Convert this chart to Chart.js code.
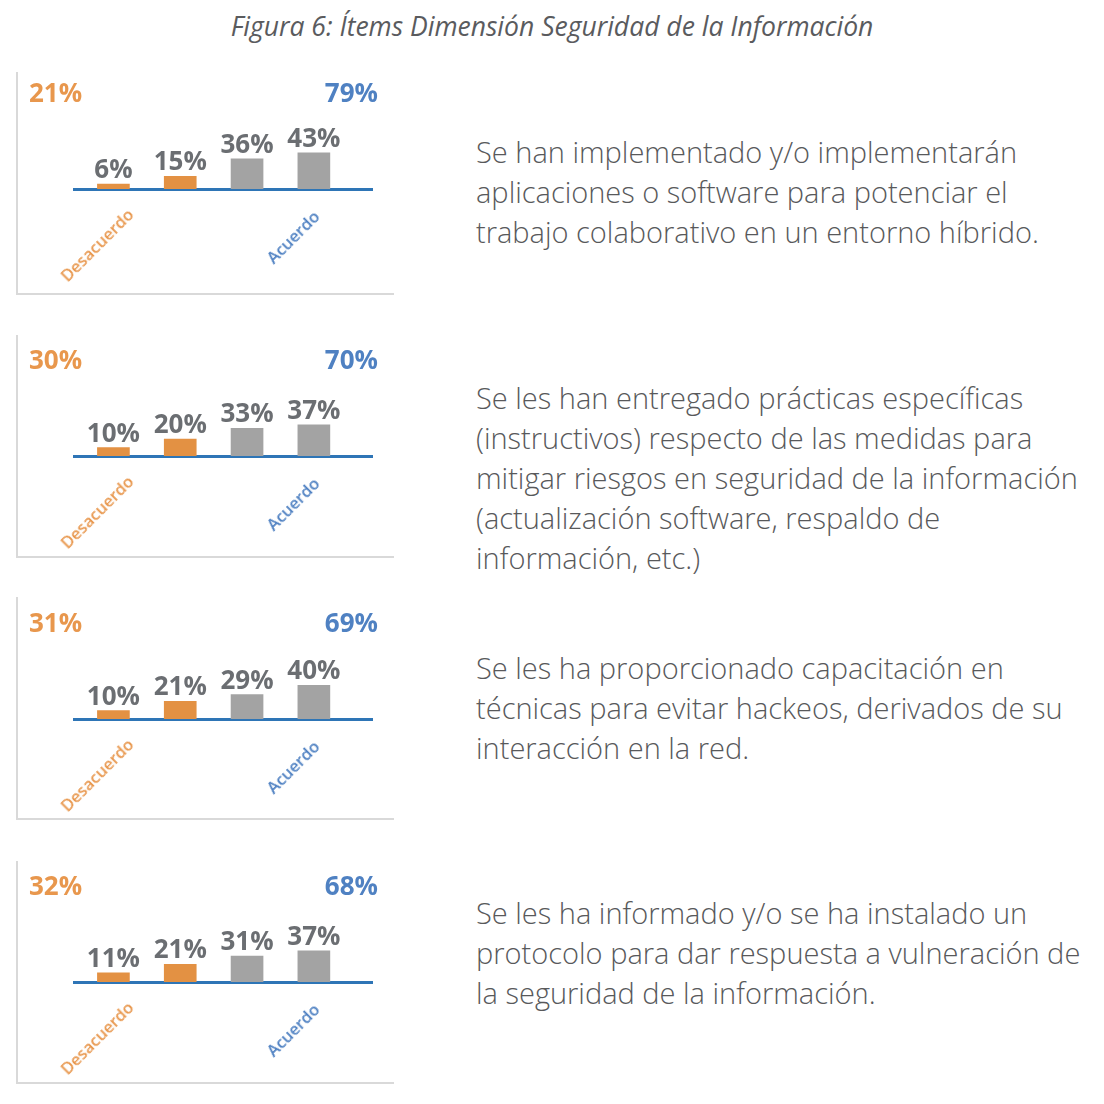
<!DOCTYPE html>
<html>
<head>
<meta charset="utf-8">
<script src="https://cdn.jsdelivr.net/npm/chart.js@4"></script>
<style>
  html, body { margin: 0; padding: 0; background: #ffffff; }
  #page { position: relative; width: 1104px; height: 1104px; overflow: hidden; font-family: "Open Sans", "Noto Sans", sans-serif; }
  .title { position: absolute; left: 0; width: 1104px; top: 9px; text-align: center; font-style: italic; font-size: 26.5px; line-height: 34px; color: #5a5b5e; }
  .frame { position: absolute; left: 16px; width: 378px; height: 223px; border-left: 2px solid #d9d9d9; border-bottom: 2px solid #d9d9d9; box-sizing: border-box; }
  .chartbox { position: absolute; left: 0; width: 410px; height: 250px; }
  .tot { position: absolute; font-weight: bold; font-size: 26px; line-height: 26px; }
  .rot { position: absolute; font-size: 16.5px; font-weight: 600; line-height: 20px; white-space: nowrap; transform: translate(-50%, -50%) rotate(-45deg); }
  .desc { position: absolute; left: 476px; font-size: 29px; line-height: 40px; color: #58595b; font-weight: 300; white-space: nowrap; }
</style>
</head>
<body>
<div id="page">
  <div class="title">Figura 6: Ítems Dimensión Seguridad de la Información</div>
</div>
<script>
// ---- data ----
const categories = ['Totalmente en desacuerdo', 'En desacuerdo', 'De acuerdo', 'Totalmente de acuerdo'];
const item1Values = [6, 15, 36, 43];
const item2Values = [10, 20, 33, 37];
const item3Values = [10, 21, 29, 40];
const item4Values = [11, 21, 31, 37];
const desacuerdoTotals = [21, 30, 31, 32];
const acuerdoTotals = [79, 70, 69, 68];
const groupLabels = ['Desacuerdo', 'Acuerdo'];
const itemTexts = [
  ['Se han implementado y/o implementarán', 'aplicaciones o software para potenciar el', 'trabajo colaborativo en un entorno híbrido.'],
  ['Se les han entregado prácticas específicas', '(instructivos) respecto de las medidas para', 'mitigar riesgos en seguridad de la información', '(actualización software, respaldo de', 'información, etc.)'],
  ['Se les ha proporcionado capacitación en', 'técnicas para evitar hackeos, derivados de su', 'interacción en la red.'],
  ['Se les ha informado y/o se ha instalado un', 'protocolo para dar respuesta a vulneración de', 'la seguridad de la información.']
];
const allValues = [item1Values, item2Values, item3Values, item4Values];

// ---- styles ----
const ORANGE = '#e39143';
const ORANGE_TXT = '#e8974d';
const GREY = '#a3a3a3';
const BLUE_LINE = '#2e75b6';
const BLUE_TXT = '#4f81c2';
const LABEL_GREY = '#6b6e72';
const panelOffsets = [0, 266.5, 529.5, 793];
const frameOffsets = [0, 263, 525, 789];
const textTops = [132, 378, 648, 893];

const valueLabels = {
  id: 'valueLabels',
  afterDatasetsDraw(chart) {
    const ctx = chart.ctx;
    ctx.save();
    ctx.font = 'bold 26px "Open Sans", "Noto Sans", sans-serif';
    ctx.fillStyle = LABEL_GREY;
    ctx.textAlign = 'center';
    ctx.textBaseline = 'alphabetic';
    chart.getDatasetMeta(0).data.forEach((bar, i) => {
      const v = chart.data.datasets[0].data[i].y;
      ctx.fillText(v + '%', bar.x, bar.y - 6);
    });
    ctx.restore();
  }
};

const page = document.getElementById('page');
allValues.forEach((vals, p) => {
  const off = Math.round(panelOffsets[p]);
  const frame = document.createElement('div');
  frame.className = 'frame';
  frame.style.top = (frameOffsets[p] + 72) + 'px';
  page.appendChild(frame);

  const box = document.createElement('div');
  box.className = 'chartbox';
  box.style.top = (off + 60) + 'px';
  const cv = document.createElement('canvas');
  cv.width = 410; cv.height = 250;
  box.appendChild(cv);
  page.appendChild(box);

  new Chart(cv, {
    type: 'bar',
    data: {
      datasets: [{
        label: 'Ítem ' + (p + 1),
        data: vals.map((v, i) => ({ x: i, y: v })),
        backgroundColor: vals.map((v, i) => i < 2 ? ORANGE : GREY),
        barThickness: 32,
        borderWidth: 0
      }]
    },
    options: {
      responsive: false,
      animation: false,
      events: [],
      layout: { padding: { left: 74, right: 38, top: 45, bottom: 121 } },
      plugins: { legend: { display: false }, tooltip: { enabled: false } },
      scales: {
        x: {
          type: 'linear', min: -0.59, max: 3.87, offset: false,
          grid: { display: false, offset: false },
          ticks: { display: false },
          border: { display: true, color: BLUE_LINE, width: 3 },
          afterFit: s => { s.height = 0; }
        },
        y: { display: false, min: 0, max: 100 }
      }
    },
    plugins: [valueLabels]
  });

  const t1 = document.createElement('div');
  t1.className = 'tot';
  t1.style.color = ORANGE_TXT;
  t1.style.left = '29px';
  t1.style.top = (off + 79) + 'px';
  t1.textContent = desacuerdoTotals[p] + '%';
  page.appendChild(t1);

  const t2 = document.createElement('div');
  t2.className = 'tot';
  t2.style.color = BLUE_TXT;
  t2.style.right = (1104 - 378) + 'px';
  t2.style.top = (off + 79) + 'px';
  t2.textContent = acuerdoTotals[p] + '%';
  page.appendChild(t2);

  const r1 = document.createElement('div');
  r1.className = 'rot';
  r1.style.color = ORANGE_TXT;
  r1.style.left = '97px';
  r1.style.top = (off + 245) + 'px';
  r1.textContent = groupLabels[0];
  page.appendChild(r1);

  const r2 = document.createElement('div');
  r2.className = 'rot';
  r2.style.color = BLUE_TXT;
  r2.style.left = '293px';
  r2.style.top = (off + 237) + 'px';
  r2.textContent = groupLabels[1];
  page.appendChild(r2);

  const d = document.createElement('div');
  d.className = 'desc';
  d.style.top = textTops[p] + 'px';
  d.innerHTML = itemTexts[p].join('<br>');
  page.appendChild(d);
});
</script>
</body>
</html>
